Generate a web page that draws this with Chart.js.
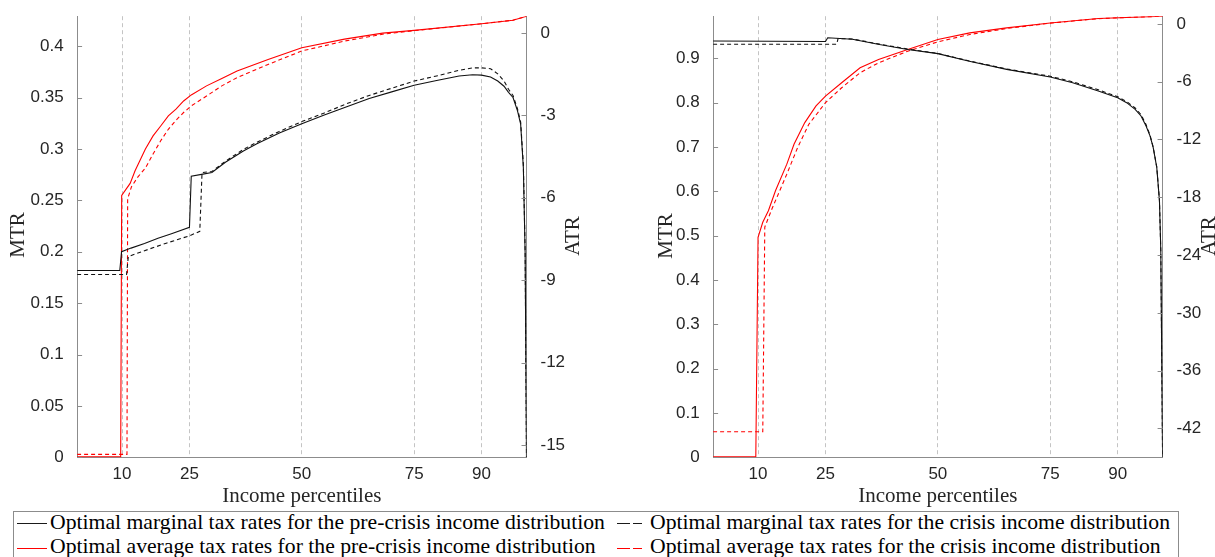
<!DOCTYPE html>
<html>
<head>
<meta charset="utf-8">
<script src="https://cdn.jsdelivr.net/npm/chart.js@4.4.1/dist/chart.umd.min.js"></script>
<style>
html,body{margin:0;padding:0;background:#fff;width:1215px;height:557px;overflow:hidden;position:relative}
canvas{position:absolute;top:0}
#c1{left:0}
#c2{left:620px}
#legend{position:absolute;left:13px;top:511px;width:1166px;height:70px;border:1px solid #8c8c8c;box-sizing:border-box;background:#fff;font-family:"Liberation Serif",serif;font-size:21.7px;color:#000}
.txt{position:absolute;white-space:nowrap;line-height:24px;height:24px}
.smp{position:absolute;height:0;border-top:1.2px solid #000}
</style>
</head>
<body>
<canvas id="c1" width="620" height="510"></canvas>
<canvas id="c2" width="595" height="510"></canvas>
<div id="legend">
  <div class="smp" style="left:3px;top:11px;width:30px;border-color:#1a1a1a"></div>
  <div class="txt" style="left:36px;top:-2px">Optimal marginal tax rates for the pre-crisis income distribution</div>
  <div class="smp" style="left:603px;top:11px;width:13px;border-color:#1a1a1a"></div>
  <div class="smp" style="left:619px;top:11px;width:9px;border-color:#1a1a1a"></div>
  <div class="txt" style="left:636px;top:-2px">Optimal marginal tax rates for the crisis income distribution</div>
  <div class="smp" style="left:3px;top:36px;width:30px;border-color:#ff0000"></div>
  <div class="txt" style="left:36px;top:22px">Optimal average tax rates for the pre-crisis income distribution</div>
  <div class="smp" style="left:603px;top:36px;width:13px;border-color:#ff0000"></div>
  <div class="smp" style="left:619px;top:36px;width:9px;border-color:#ff0000"></div>
  <div class="txt" style="left:636px;top:22px">Optimal average tax rates for the crisis income distribution</div>
</div>
<script>
// ---------- tick labels ----------
const PCT_TICKS = [10, 25, 50, 75, 90];
const L_MTR_TICKS = [0, 0.05, 0.1, 0.15, 0.2, 0.25, 0.3, 0.35, 0.4];
const L_ATR_TICKS = [-15, -12, -9, -6, -3, 0];
const R_MTR_TICKS = [0, 0.1, 0.2, 0.3, 0.4, 0.5, 0.6, 0.7, 0.8, 0.9];
const R_ATR_TICKS = [-42, -36, -30, -24, -18, -12, -6, 0];

// ---------- left panel data ----------
const L_X_MTR_PRE = [0, 9.5, 9.9, 12, 15, 18, 21, 25, 25.4, 28, 30, 33, 37, 40, 45, 50, 55, 60, 65, 70, 75, 80, 85, 88, 90, 92, 93.6, 95, 96, 97, 98, 98.7, 99.3, 99.7, 100];
const L_MTR_PRE   = [0.1817, 0.1817, 0.200, 0.2035, 0.208, 0.213, 0.2175, 0.2237, 0.2735, 0.2755, 0.277, 0.287, 0.298, 0.305, 0.3155, 0.3245, 0.333, 0.341, 0.349, 0.3555, 0.3619, 0.3665, 0.371, 0.3722, 0.3718, 0.370, 0.366, 0.361, 0.355, 0.350, 0.337, 0.324, 0.282, 0.198, 0.0];

const L_X_MTR_CRI = [0, 11.0, 11.4, 15, 20, 25, 27.3, 27.8, 30, 33, 37, 40, 45, 50, 55, 60, 65, 70, 75, 80, 85, 88, 90, 92, 93.6, 95, 96, 97, 98, 98.7, 99.3, 99.7, 100];
const L_MTR_CRI   = [0.1778, 0.1778, 0.1953, 0.201, 0.2085, 0.2155, 0.2198, 0.277, 0.278, 0.288, 0.2995, 0.3065, 0.317, 0.3266, 0.335, 0.344, 0.352, 0.359, 0.366, 0.371, 0.3765, 0.3788, 0.3789, 0.378, 0.373, 0.366, 0.358, 0.352, 0.339, 0.326, 0.285, 0.200, 0.0];

const L_X_ATR_PRE = [0, 9.7, 9.92, 11.8, 12.9, 15.2, 16.9, 18.6, 20.3, 22.0, 23.7, 25.4, 28.8, 32.2, 35.6, 42.5, 50, 59.5, 68, 75, 90, 97, 100];
const L_ATR_PRE   = [-15.43, -15.43, -5.92, -5.48, -5.02, -4.23, -3.75, -3.39, -3.02, -2.78, -2.48, -2.26, -1.93, -1.66, -1.39, -0.97, -0.54, -0.23, -0.01, 0.09, 0.33, 0.46, 0.60];

const L_X_ATR_CRI = [0, 11.1, 11.25, 12.1, 13.5, 15.2, 16.9, 18.6, 20.3, 22.0, 23.7, 25.4, 28.8, 32.2, 35.6, 42.5, 50, 59.5, 68, 75, 90, 97, 100];
const L_ATR_CRI   = [-15.34, -15.34, -6.04, -5.6, -5.25, -4.92, -4.41, -3.93, -3.51, -3.18, -2.90, -2.66, -2.30, -1.93, -1.63, -1.15, -0.66, -0.30, -0.05, 0.08, 0.33, 0.46, 0.60];

// ---------- right panel data ----------
const R_X_MTR_PRE = [0, 25, 25.5, 31, 37, 43.3, 50, 57, 65.3, 75, 80, 85.7, 90, 92, 93.9, 95.2, 96.3, 97.2, 97.9, 98.7, 99.3, 99.6, 100];
const R_MTR_PRE   = [0.939, 0.938, 0.9465, 0.943, 0.931, 0.920, 0.9105, 0.8935, 0.875, 0.858, 0.845, 0.8265, 0.811, 0.800, 0.785, 0.770, 0.748, 0.725, 0.699, 0.654, 0.579, 0.466, 0.0];

const R_X_MTR_CRI = [0, 27.5, 27.8, 31, 37, 43.3, 50, 57, 65.3, 75, 80, 85.7, 90, 92, 93.9, 95.2, 96.3, 97.2, 97.9, 98.7, 99.3, 99.6, 100];
const R_MTR_CRI   = [0.9316, 0.9316, 0.9445, 0.9435, 0.932, 0.921, 0.911, 0.894, 0.876, 0.8595, 0.847, 0.829, 0.8135, 0.8025, 0.788, 0.773, 0.751, 0.727, 0.700, 0.655, 0.580, 0.466, 0.0];

const R_X_ATR_PRE = [0, 9.5, 10.0, 11.05, 12.3, 13.9, 16.4, 18.0, 20.4, 22.9, 25, 28.6, 32.7, 36.8, 43.3, 50, 57.1, 65.3, 75, 85.7, 100];
const R_ATR_PRE   = [-44.95, -44.95, -22.16, -20.6, -19.4, -17.3, -14.56, -12.49, -10.25, -8.52, -7.49, -6.11, -4.56, -3.69, -2.65, -1.62, -0.93, -0.41, 0.10, 0.56, 0.80];

const R_X_ATR_CRI = [0, 11.05, 11.5, 13.1, 16.4, 18.8, 21.3, 25, 28.6, 32.7, 36.8, 43.3, 50, 57.1, 65.3, 75, 85.7, 100];
const R_ATR_CRI   = [-42.35, -42.35, -21.1, -19.2, -15.6, -12.84, -10.42, -8.18, -6.63, -5.07, -4.04, -2.83, -1.86, -1.10, -0.48, 0.08, 0.55, 0.80];

// ---------- helpers ----------
function pts(xs, ys) { return xs.map((x, i) => ({ x: x, y: ys[i] })); }
const AXIS = '#8c8c8c';
const TXT = '#262626';
Chart.defaults.font.family = '"Liberation Sans", Arial, sans-serif';

const decor = {
  id: 'decor',
  afterDraw(chart, args, o) {
    const ctx = chart.ctx, a = chart.chartArea, s = chart.scales;
    ctx.save();
    ctx.strokeStyle = AXIS; ctx.lineWidth = 1;
    s.y.ticks.forEach(t => {
      const p = Math.round(s.y.getPixelForValue(t.value)) + 0.5;
      ctx.beginPath(); ctx.moveTo(a.left, p); ctx.lineTo(a.left + 5, p); ctx.stroke();
    });
    s.y2.ticks.forEach(t => {
      const p = Math.round(s.y2.getPixelForValue(t.value)) + 0.5;
      ctx.beginPath(); ctx.moveTo(a.right - 5, p); ctx.lineTo(a.right, p); ctx.stroke();
    });
    ctx.fillStyle = TXT;
    ctx.font = '21px "Liberation Serif", serif';
    ctx.textAlign = 'center';
    ctx.textBaseline = 'alphabetic';
    ctx.fillText('Income percentiles', (a.left + a.right) / 2, o.xlabY);
    ctx.textBaseline = 'middle';
    [[o.mtr, 'MTR'], [o.atr, 'ATR']].forEach(([p, t]) => {
      ctx.save(); ctx.translate(p[0], p[1]); ctx.rotate(-Math.PI / 2);
      ctx.fillText(t, 0, 0); ctx.restore();
    });
    ctx.restore();
  }
};

function fmt2(v) { return String(Math.round(v * 100) / 100); }

function build(id, o) {
  return new Chart(document.getElementById(id), {
    type: 'line',
    data: {
      datasets: [
        { data: pts(o.mtrPreX, o.mtrPre), yAxisID: 'y', borderColor: '#111', borderWidth: 1.1 },
        { data: pts(o.mtrCriX, o.mtrCri), yAxisID: 'y', borderColor: '#111', borderWidth: 1.1, borderDash: [4, 3] },
        { data: pts(o.atrPreX, o.atrPre), yAxisID: 'y2', borderColor: '#ff0000', borderWidth: 1.1 },
        { data: pts(o.atrCriX, o.atrCri), yAxisID: 'y2', borderColor: '#ff0000', borderWidth: 1.1, borderDash: [4, 3] }
      ]
    },
    options: {
      responsive: false, animation: false, devicePixelRatio: 1,
      elements: { point: { radius: 0 }, line: { tension: 0, fill: false } },
      layout: { padding: { top: 15, left: 0, right: 0, bottom: 0 } },
      plugins: { legend: { display: false }, tooltip: { enabled: false }, decor: o.decor },
      scales: {
        x: {
          type: 'linear', position: 'bottom', min: 0, max: 100,
          afterBuildTicks: sc => { sc.ticks = PCT_TICKS.map(v => ({ value: v })); },
          afterFit: sc => { sc.height = o.xH; },
          grid: { display: true, drawTicks: false, color: '#c4c4c4', lineWidth: 1 },
          border: { display: true, color: AXIS, width: 1, dash: [4, 3] },
          ticks: { padding: 7, color: TXT, font: { size: 17 }, maxRotation: 0, autoSkip: false, callback: v => String(v) }
        },
        y: {
          type: 'linear', position: 'left', min: 0, max: o.mtrMax,
          afterBuildTicks: sc => { sc.ticks = o.mtrTicks.map(v => ({ value: v })); },
          afterFit: sc => { sc.width = o.yLW; },
          grid: { display: false },
          border: { display: true, color: AXIS, width: 1 },
          ticks: { padding: 5.5, color: TXT, font: { size: 17 }, autoSkip: false, callback: v => fmt2(v) }
        },
        y2: {
          type: 'linear', position: 'right', min: o.atrMin, max: o.atrMax,
          afterBuildTicks: sc => { sc.ticks = o.atrTicks.map(v => ({ value: v })); },
          afterFit: sc => { sc.width = o.yRW; },
          grid: { display: false },
          border: { display: true, color: AXIS, width: 1 },
          ticks: { padding: 6, color: TXT, font: { size: 17 }, autoSkip: false, callback: v => String(v) }
        }
      }
    },
    plugins: [decor]
  });
}

build('c1', {
  mtrPreX: L_X_MTR_PRE, mtrPre: L_MTR_PRE, mtrCriX: L_X_MTR_CRI, mtrCri: L_MTR_CRI,
  atrPreX: L_X_ATR_PRE, atrPre: L_ATR_PRE, atrCriX: L_X_ATR_CRI, atrCri: L_ATR_CRI,
  mtrMax: 0.4291, atrMin: -15.447, atrMax: 0.605,
  mtrTicks: L_MTR_TICKS, atrTicks: L_ATR_TICKS,
  yLW: 77.1, yRW: 620 - 526.5, xH: 510 - 457.3,
  decor: { xlabY: 501.7, mtr: [18, 235], atr: [573, 236] }
});

build('c2', {
  mtrPreX: R_X_MTR_PRE, mtrPre: R_MTR_PRE, mtrCriX: R_X_MTR_CRI, mtrCri: R_MTR_CRI,
  atrPreX: R_X_ATR_PRE, atrPre: R_ATR_PRE, atrCriX: R_X_ATR_CRI, atrCri: R_ATR_CRI,
  mtrMax: 0.995, atrMin: -45, atrMax: 0.8,
  mtrTicks: R_MTR_TICKS, atrTicks: R_ATR_TICKS,
  yLW: 713.1 - 620, yRW: 595 - 542.6, xH: 510 - 457.3,
  decor: { xlabY: 501.7, mtr: [666 - 620, 236], atr: [1209 - 620, 236] }
});
</script>
</body>
</html>
